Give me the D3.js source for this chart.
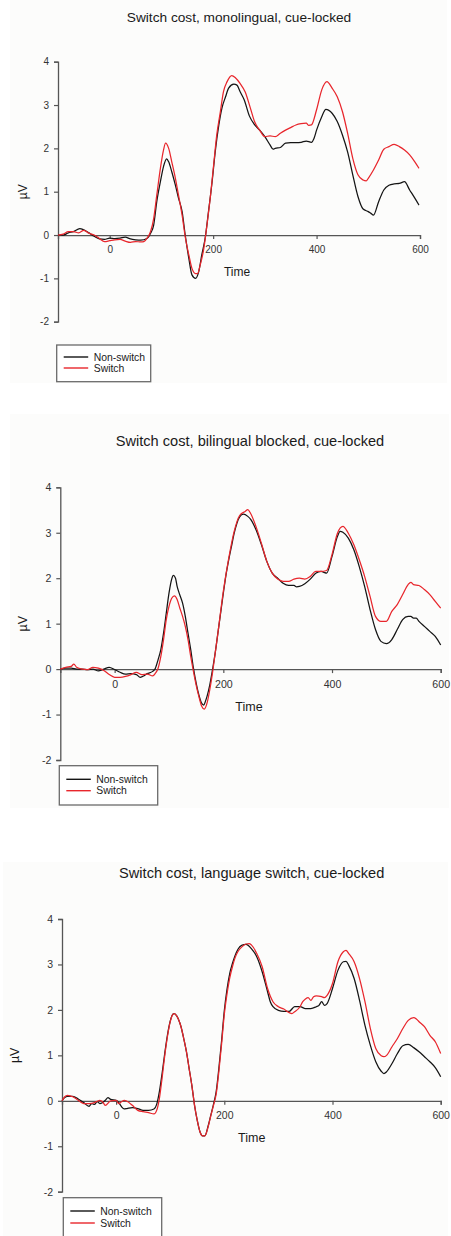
<!DOCTYPE html>
<html>
<head>
<meta charset="utf-8">
<script src="https://cdn.jsdelivr.net/npm/d3@7/dist/d3.min.js"></script>
<style>
  html, body { margin: 0; padding: 0; background: #ffffff; }
  svg { display: block; font-family: "Liberation Sans", Arial, Helvetica, sans-serif; }
</style>
</head>
<body>
<svg id="chart" width="451" height="1236"></svg>
<script>
// ERP waveforms (µV) for non-switch and switch trials, cue-locked, time in ms.
const titles = [
  "Switch cost, monolingual, cue-locked",
  "Switch cost, bilingual blocked, cue-locked",
  "Switch cost, language switch, cue-locked"
];
const seriesNames = ["Non-switch", "Switch"];
const xTickValues = [0, 200, 400, 600];
const yTickValues = [-2, -1, 0, 1, 2, 3, 4];
const timeDomain = [-100, 600];
const voltDomain = [-2, 4];

// [time (ms), amplitude (µV)]
const monoNonSwitch = [
  [-100,0],[-90,0],[-80,0.05],[-70,0.08],[-58,0.15],[-50,0.12],[-40,0.05],[-30,-0.03],[-20,-0.09],[-10,-0.1],
  [0,-0.07],[10,-0.08],[20,-0.07],[30,-0.05],[40,-0.09],[50,-0.11],[60,-0.12],[72,-0.08],[79,0.04],[85,0.23],
  [91,0.77],[98,1.23],[104,1.58],[110,1.76],[114,1.69],[120,1.46],[127,1.15],[133,0.85],[140,0.54],[146,0],
  [153,-0.54],[159,-0.92],[166,-1.0],[172,-0.85],[178,-0.46],[185,-0.04],[191,0.54],[198,1.23],[204,1.92],[211,2.54],
  [217,2.93],[224,3.19],[230,3.39],[240,3.48],[246,3.46],[252,3.31],[260,3.12],[270,2.75],[280,2.55],[290,2.42],
  [300,2.27],[310,2.08],[316,1.98],[320,2.0],[330,2.02],[340,2.12],[350,2.13],[360,2.13],[370,2.14],[380,2.17],
  [390,2.14],[395,2.23],[400,2.42],[410,2.73],[418,2.9],[430,2.81],[440,2.62],[450,2.31],[460,1.92],[470,1.39],
  [480,0.89],[490,0.6],[500,0.54],[505,0.5],[510,0.46],[520,0.77],[530,1.04],[540,1.15],[550,1.18],[560,1.19],
  [570,1.23],[580,1.04],[590,0.85],[598,0.69]
];
const monoSwitch = [
  [-100,0],[-90,0.02],[-80,0.08],[-70,0.08],[-60,0.05],[-50,0.11],[-40,0.04],[-30,0],[-20,-0.08],[-10,-0.15],
  [0,-0.13],[10,-0.11],[20,-0.1],[30,-0.14],[40,-0.17],[50,-0.15],[60,-0.16],[66,-0.15],[73,-0.06],[79,0.08],
  [85,0.38],[91,0.92],[98,1.54],[104,1.96],[108,2.12],[114,2.0],[120,1.69],[127,1.31],[133,0.92],[140,0.46],
  [146,-0.04],[153,-0.46],[159,-0.77],[166,-0.89],[170,-0.89],[175,-0.69],[182,-0.31],[188,0.23],[195,0.92],[201,1.62],
  [207,2.31],[214,2.85],[220,3.31],[227,3.54],[236,3.68],[243,3.63],[252,3.5],[262,3.3],[272,2.93],[280,2.62],
  [290,2.42],[300,2.27],[310,2.29],[320,2.27],[330,2.35],[340,2.42],[350,2.48],[360,2.54],[370,2.57],[380,2.58],
  [385,2.53],[390,2.54],[400,2.89],[410,3.35],[420,3.54],[430,3.39],[440,3.19],[450,2.85],[460,2.35],[470,1.77],
  [480,1.39],[490,1.27],[496,1.25],[500,1.31],[510,1.5],[520,1.73],[530,1.98],[540,2.04],[550,2.09],[560,2.04],
  [570,1.96],[580,1.85],[590,1.69],[598,1.54]
];
const blockedNonSwitch = [
  [-100,0],[-90,0.02],[-80,0.02],[-70,0],[-60,0],[-50,-0.01],[-40,0],[-30,-0.04],[-20,0],[-10,0.04],
  [0,-0.01],[10,-0.07],[20,-0.11],[30,-0.1],[40,-0.12],[47,-0.18],[55,-0.14],[60,-0.1],[70,-0.05],[75,0.02],
  [80,0.21],[85,0.43],[90,0.79],[95,1.23],[100,1.67],[105,1.98],[108,2.06],[112,2.0],[115,1.82],[120,1.63],
  [125,1.45],[130,1.16],[135,0.79],[140,0.43],[145,0.02],[150,-0.31],[155,-0.57],[160,-0.75],[164,-0.79],[167,-0.71],
  [170,-0.6],[175,-0.35],[180,-0.02],[185,0.35],[190,0.79],[195,1.23],[200,1.67],[205,2.08],[210,2.41],[215,2.7],
  [220,2.99],[225,3.21],[230,3.35],[237,3.41],[245,3.36],[250,3.3],[260,3.07],[270,2.74],[280,2.37],[290,2.11],
  [300,2.0],[310,1.89],[320,1.84],[330,1.84],[335,1.81],[340,1.82],[350,1.88],[360,1.98],[370,2.11],[380,2.15],
  [385,2.13],[390,2.11],[400,2.48],[410,2.92],[415,3.03],[420,3.01],[430,2.88],[440,2.63],[450,2.26],[460,1.82],
  [470,1.31],[480,0.87],[490,0.61],[500,0.56],[510,0.65],[520,0.87],[530,1.09],[540,1.16],[545,1.16],[550,1.12],
  [555,1.12],[560,1.05],[570,0.94],[580,0.83],[590,0.72],[600,0.53]
];
const blockedSwitch = [
  [-100,0],[-90,0.04],[-80,0.06],[-75,0.11],[-70,0.04],[-60,0],[-50,-0.01],[-40,0.04],[-30,0.02],[-20,-0.03],
  [-10,-0.12],[0,-0.18],[10,-0.18],[20,-0.16],[30,-0.12],[40,-0.07],[50,-0.12],[60,-0.11],[70,-0.15],[75,-0.09],
  [80,0.02],[85,0.28],[90,0.65],[95,1.09],[100,1.38],[105,1.56],[110,1.61],[115,1.53],[120,1.34],[125,1.16],
  [130,0.94],[135,0.65],[140,0.28],[145,-0.05],[150,-0.35],[155,-0.6],[160,-0.81],[165,-0.88],[170,-0.75],[175,-0.46],
  [180,-0.09],[185,0.35],[190,0.79],[200,1.71],[210,2.44],[220,3.03],[230,3.38],[240,3.47],[245,3.51],[250,3.43],
  [260,3.14],[270,2.77],[280,2.37],[290,2.11],[300,1.98],[310,1.93],[320,1.93],[330,1.98],[340,2.0],[350,1.98],
  [360,2.04],[370,2.15],[380,2.15],[390,2.17],[400,2.52],[410,2.99],[420,3.14],[430,2.99],[440,2.74],[450,2.41],
  [460,2.04],[470,1.6],[480,1.16],[490,1.05],[500,1.05],[510,1.27],[520,1.42],[530,1.64],[540,1.86],[545,1.91],
  [550,1.86],[560,1.84],[570,1.75],[580,1.64],[590,1.49],[600,1.34]
];
const langNonSwitch = [
  [-100,0],[-95,0.07],[-90,0.1],[-80,0.1],[-70,0.04],[-60,-0.04],[-50,-0.12],[-45,-0.06],[-40,-0.08],[-35,-0.02],
  [-30,-0.06],[-20,0.01],[-15,0.07],[-10,0.03],[0,0.01],[5,-0.04],[10,-0.13],[15,-0.18],[20,-0.17],[30,-0.15],
  [40,-0.17],[50,-0.21],[60,-0.21],[70,-0.18],[75,-0.08],[80,0.2],[85,0.6],[90,1.05],[95,1.45],[100,1.75],
  [105,1.91],[108,1.92],[112,1.87],[115,1.8],[120,1.63],[125,1.37],[130,1.08],[135,0.71],[140,0.34],[145,-0.1],
  [150,-0.43],[155,-0.68],[160,-0.77],[164,-0.77],[170,-0.56],[175,-0.32],[180,-0.08],[185,0.2],[190,0.72],[195,1.32],
  [200,1.98],[205,2.45],[210,2.8],[215,3.02],[220,3.2],[225,3.33],[232,3.42],[240,3.44],[250,3.35],[260,3.17],
  [270,2.84],[280,2.4],[285,2.18],[290,2.07],[300,1.99],[310,1.97],[320,1.97],[330,2.07],[340,2.07],[350,2.03],
  [360,2.03],[370,2.07],[375,2.1],[380,2.18],[385,2.1],[390,2.14],[400,2.47],[410,2.87],[420,3.06],[425,3.07],
  [430,2.98],[440,2.69],[450,2.21],[460,1.66],[470,1.22],[480,0.86],[490,0.65],[495,0.6],[500,0.64],[510,0.82],
  [520,1.04],[530,1.21],[540,1.24],[550,1.17],[560,1.08],[570,0.97],[580,0.86],[590,0.73],[600,0.53]
];
const langSwitch = [
  [-100,0],[-95,0.09],[-90,0.12],[-85,0.11],[-80,0.09],[-70,0.01],[-60,-0.06],[-50,-0.06],[-40,-0.04],[-35,-0.01],
  [-30,0.01],[-25,-0.02],[-20,-0.1],[-10,0],[0,0.01],[5,-0.06],[10,-0.02],[15,0.01],[20,-0.01],[30,-0.1],
  [40,-0.21],[50,-0.24],[60,-0.26],[70,-0.29],[75,-0.21],[80,0.05],[85,0.5],[90,1.0],[95,1.42],[100,1.74],
  [105,1.9],[108,1.92],[112,1.87],[115,1.8],[120,1.63],[125,1.37],[130,1.08],[135,0.71],[140,0.34],[145,-0.1],
  [150,-0.43],[155,-0.68],[160,-0.77],[164,-0.77],[170,-0.58],[175,-0.33],[180,-0.1],[185,0.15],[190,0.65],[195,1.25],
  [200,1.9],[205,2.35],[210,2.7],[215,2.95],[220,3.15],[225,3.28],[232,3.38],[240,3.45],[246,3.46],[250,3.43],
  [260,3.24],[270,2.95],[280,2.47],[290,2.18],[300,2.07],[310,2.02],[320,1.94],[325,1.92],[330,1.96],[340,2.07],
  [345,2.18],[350,2.24],[355,2.27],[360,2.21],[365,2.29],[370,2.31],[380,2.29],[385,2.27],[390,2.32],[400,2.58],
  [410,3.06],[420,3.28],[425,3.31],[430,3.24],[440,3.06],[450,2.69],[460,2.18],[470,1.59],[480,1.15],[490,0.99],
  [495,0.97],[500,1.0],[510,1.19],[520,1.37],[530,1.59],[540,1.77],[550,1.83],[555,1.8],[560,1.74],[570,1.63],
  [580,1.44],[590,1.3],[600,1.04]
];

const lineColors = ["#141414", "#e8262c"];

// Page layout for the three stacked panels.
const panels = [
  { title: titles[0], series: [monoNonSwitch, monoSwitch],
    left: 58, right: 420, top: 61.7, bottom: 321.7,
    titleX: 239, titleY: 17, titleSize: 13.7, timeX: 237, timeY: 272, labelSize: 12,
    tickSize: 10, uvX: 23, bg: [10, 0, 437, 383],
    legend: { x: 56.7, y: 345, w: 94, h: 36.7, r1: 12, r2: 23 } },
  { title: titles[1], series: [blockedNonSwitch, blockedSwitch],
    left: 60.3, right: 440.7, top: 487.3, bottom: 760,
    titleX: 250, titleY: 440.7, titleSize: 14.6, timeX: 249, timeY: 707, labelSize: 12.5,
    tickSize: 10.6, uvX: 23, bg: [10, 414, 439, 394],
    legend: { x: 59.3, y: 765.7, w: 98.4, h: 39.3, r1: 13.6, r2: 25 } },
  { title: titles[2], series: [langNonSwitch, langSwitch],
    left: 62, right: 440.7, top: 919, bottom: 1191.7,
    titleX: 251.7, titleY: 872.7, titleSize: 14.6, timeX: 251.7, timeY: 1138, labelSize: 12.5,
    tickSize: 10.5, uvX: 15, bg: [3, 862, 445, 374],
    legend: { x: 63.3, y: 1197.7, w: 98.4, h: 45, r1: 13.3, r2: 25.3 } }
];

const svg = d3.select("#chart");

panels.forEach(p => {
  const g = svg.append("g");

  g.append("rect")
    .attr("x", p.bg[0]).attr("y", p.bg[1])
    .attr("width", p.bg[2]).attr("height", p.bg[3])
    .attr("fill", "#fcfcfb");

  const x = d3.scaleLinear().domain(timeDomain).range([p.left, p.right]);
  const y = d3.scaleLinear().domain(voltDomain).range([p.bottom, p.top]);

  // title
  g.append("text")
    .attr("x", p.titleX).attr("y", p.titleY)
    .attr("dy", "0.35em")
    .attr("text-anchor", "middle")
    .attr("font-size", p.titleSize)
    .attr("fill", "#1a1a1a")
    .text(p.title);

  // y axis
  const yAxis = g.append("g")
    .attr("transform", `translate(${p.left},0)`)
    .call(d3.axisLeft(y).tickValues(yTickValues).tickSizeOuter(0).tickSize(4).tickPadding(5)
      .tickFormat(d => String(d)));
  // x axis along the zero line
  const xAxis = g.append("g")
    .attr("transform", `translate(0,${y(0)})`)
    .call(d3.axisBottom(x).tickValues(xTickValues).tickSizeOuter(0).tickSize(4).tickPadding(7)
      .tickFormat(d => String(d)));

  [yAxis, xAxis].forEach(a => {
    a.select(".domain").attr("stroke", "#555").attr("stroke-width", 1.3);
    a.selectAll(".tick line").attr("stroke", "#555").attr("stroke-width", 1.2);
    a.selectAll(".tick text")
      .attr("fill", "#333")
      .attr("font-size", p.tickSize)
      .attr("font-family", "\"Liberation Sans\", Arial, sans-serif");
  });

  // axis titles
  g.append("text")
    .attr("x", p.timeX).attr("y", p.timeY)
    .attr("dy", "0.35em")
    .attr("text-anchor", "middle")
    .attr("font-size", p.labelSize)
    .attr("fill", "#1a1a1a")
    .text("Time");

  g.append("text")
    .attr("transform", `translate(${p.uvX},${(p.top + p.bottom) / 2}) rotate(-90)`)
    .attr("dy", "0.35em")
    .attr("text-anchor", "middle")
    .attr("font-size", p.labelSize)
    .attr("fill", "#1a1a1a")
    .text("µV");

  // waveforms
  const line = d3.line()
    .x(d => x(d[0]))
    .y(d => y(d[1]))
    .curve(d3.curveMonotoneX);

  p.series.forEach((s, i) => {
    g.append("path")
      .datum(s)
      .attr("fill", "none")
      .attr("stroke", lineColors[i])
      .attr("stroke-width", 1.25)
      .attr("stroke-linejoin", "round")
      .attr("d", line);
  });

  // legend
  const L = p.legend;
  const lg = g.append("g").attr("transform", `translate(${L.x},${L.y})`);
  lg.append("rect")
    .attr("width", L.w).attr("height", L.h)
    .attr("fill", "#ffffff")
    .attr("stroke", "#6a6a6a")
    .attr("stroke-width", 1.3);
  [L.r1, L.r2].forEach((ry, i) => {
    lg.append("line")
      .attr("x1", 7).attr("x2", 31.5)
      .attr("y1", ry).attr("y2", ry)
      .attr("stroke", lineColors[i])
      .attr("stroke-width", 1.4);
    lg.append("text")
      .attr("x", 37).attr("y", ry)
      .attr("dy", "0.35em")
      .attr("font-size", 10.4)
      .attr("fill", "#1a1a1a")
      .text(seriesNames[i]);
  });
});
</script>
</body>
</html>
